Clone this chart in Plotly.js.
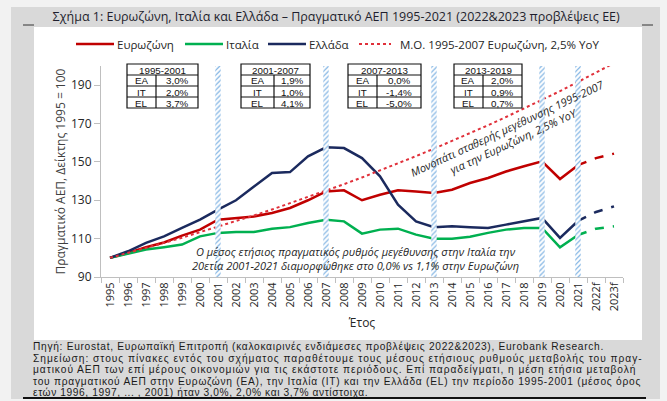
<!DOCTYPE html>
<html>
<head>
<meta charset="utf-8">
<script src="https://cdn.plot.ly/plotly-3.0.1.min.js"></script>
<style>
  html, body { margin: 0; padding: 0; background: #f2f2f2; }
  #chart { width: 667px; height: 401px; }
</style>
</head>
<body>
<div id="chart"></div>
<script>
// Years on the x axis (last two are forecasts)
const years = ['1995','1996','1997','1998','1999','2000','2001','2002','2003','2004',
  '2005','2006','2007','2008','2009','2010','2011','2012','2013','2014','2015','2016',
  '2017','2018','2019','2020','2021','2022f','2023f'];

// Real GDP index, 1995 = 100
const eurozone = [100, 102.5, 105.5, 108.0, 111.6, 114.7, 119.9, 120.8, 121.6, 123.4,
  126.0, 130.0, 134.6, 135.2, 130.0, 132.9, 135.2, 134.6, 133.8, 135.5, 139.0, 141.6,
  145.0, 147.7, 150.3, 141.1, 148.3, 152.0, 154.3];
const italy = [100, 102.2, 104.3, 105.5, 106.9, 111.2, 113.0, 113.5, 113.5, 115.2,
  116.0, 118.2, 119.9, 119.0, 112.6, 114.7, 115.2, 112.1, 110.0, 110.0, 111.0, 113.0,
  114.7, 115.6, 115.6, 105.5, 111.9, 115.2, 116.4];
const greece = [100, 103.4, 107.8, 111.2, 115.6, 119.9, 125.1, 130.0, 137.2, 144.2,
  144.7, 152.9, 157.6, 157.2, 152.0, 142.5, 127.7, 119.0, 116.0, 116.4, 116.0, 115.6,
  117.3, 119.0, 120.8, 110.4, 119.2, 123.9, 126.8];
// Constant-growth path of the 1995-2007 euro area average (2.5% YoY)
const trendPath = [100, 102.5, 105.1, 107.8, 110.5, 113.3, 116.2, 119.1, 122.1, 125.2,
  128.4, 131.7, 135.0, 138.4, 141.9, 145.5, 149.2, 153.0, 156.9, 160.9, 164.9, 169.1,
  173.4, 177.8, 182.3, 186.9, 191.7, 196.5, 201.5];

// Period breaks marked with hatched bands
const periodBreaks = ['2001', '2007', '2013', '2019', '2021'];

// Average annual growth per period
const periods = ['1995-2001', '2001-2007', '2007-2013', '2013-2019'];
const eaAvg = ['3,0%', '1,9%', '0,0%', '2,0%'];
const itAvg = ['2,0%', '1,0%', '-1,4%', '0,9%'];
const elAvg = ['3,7%', '4,1%', '-5,0%', '0,7%'];
const rowLabels = ['EA', 'IT', 'EL'];

// Legend entries
const seriesNames = ['Ευρωζώνη', 'Ιταλία', 'Ελλάδα', 'Μ.Ο. 1995-2007 Ευρωζώνη, 2,5% YoY'];

const RED = '#c00000', GREEN = '#00b050', NAVY = '#1b2a5e', DOT = '#e0303a';
const FONT = 'Open Sans, Noto Sans, sans-serif';
const SMALL = 'Liberation Sans, Arial, sans-serif';
const TXT = '#262626';

// plot area in pixels
const W = 667, H = 401;
const M = { l: 101, r: 44, t: 66, b: 124 };
const PW = W - M.l - M.r, PH = H - M.t - M.b;
const X = px => (px - M.l) / PW;
const Y = py => (H - M.b - py) / PH;

const nHist = years.indexOf('2021') + 1;
const hist = a => a.slice(0, nHist);
const fcst = a => a.slice(nHist - 1);

const traces = [
  { x: hist(years), y: hist(eurozone), name: seriesNames[0], type: 'scatter', mode: 'lines',
    line: { color: RED, width: 2.5 } },
  { x: hist(years), y: hist(italy), name: seriesNames[1], type: 'scatter', mode: 'lines',
    line: { color: GREEN, width: 2.5 } },
  { x: hist(years), y: hist(greece), name: seriesNames[2], type: 'scatter', mode: 'lines',
    line: { color: NAVY, width: 2.5 } },
  { x: years, y: trendPath, name: seriesNames[3], type: 'scatter',
    mode: 'lines', line: { color: DOT, width: 2, dash: 'dot' } },
  { x: fcst(years), y: fcst(eurozone), type: 'scatter', mode: 'lines',
    line: { color: RED, width: 2.5, dash: 'dash' } },
  { x: fcst(years), y: fcst(italy), type: 'scatter', mode: 'lines',
    line: { color: GREEN, width: 2.5, dash: 'dash' } },
  { x: fcst(years), y: fcst(greece), type: 'scatter', mode: 'lines',
    line: { color: NAVY, width: 2.5, dash: 'dash' } },
  { x: periodBreaks, y: periodBreaks.map(() => 1), type: 'bar', yaxis: 'y2',
    width: 0.3, hoverinfo: 'skip',
    marker: { color: 'rgba(255,255,255,0)', line: { width: 0 },
      pattern: { shape: '/', fgcolor: '#7fb3e3', bgcolor: 'white', size: 3.5, solidity: 0.35 } } }
];

const shapes = [
  { type: 'rect', xref: 'paper', yref: 'paper', layer: 'below',
    x0: X(11), x1: X(660), y0: Y(7), y1: Y(399), fillcolor: '#d9d9d9', line: { width: 0 } },
  { type: 'rect', xref: 'paper', yref: 'paper', layer: 'below',
    x0: X(34), x1: X(642), y0: Y(27), y1: Y(340), fillcolor: 'white', line: { width: 0 } },
  { type: 'line', xref: 'paper', yref: 'paper', x0: X(23), x1: X(34), y0: Y(25), y1: Y(25),
    line: { color: '#333', width: 1 } },
  { type: 'line', xref: 'paper', yref: 'paper', x0: X(642), x1: X(653), y0: Y(25), y1: Y(25),
    line: { color: '#333', width: 1 } },
  { type: 'line', xref: 'paper', yref: 'paper', x0: X(23), x1: X(646), y0: Y(398), y1: Y(398),
    line: { color: '#111', width: 2 } }
];

const annotations = [];

// Legend row: line sample followed by its label
const legendItems = [
  { x0: 76, x1: 114, color: RED, dash: 'solid', width: 2.5 },
  { x0: 185, x1: 223, color: GREEN, dash: 'solid', width: 2.5 },
  { x0: 268, x1: 306, color: NAVY, dash: 'solid', width: 2.5 },
  { x0: 359, x1: 391, color: DOT, dash: 'dot', width: 2 }
];
const legendY = 44;
legendItems.forEach((it, i) => {
  shapes.push({ type: 'line', xref: 'paper', yref: 'paper', x0: X(it.x0), x1: X(it.x1),
    y0: Y(legendY), y1: Y(legendY), line: { color: it.color, width: it.width, dash: it.dash } });
  annotations.push({ xref: 'paper', yref: 'paper', x: X(it.x1 + (i === 3 ? 7 : 1)), y: Y(legendY),
    xanchor: 'left', yanchor: 'middle', text: seriesNames[i], showarrow: false,
    font: { family: FONT, size: 11.5, color: TXT } });
});

// Period tables
const tableBoxes = [
  { l: 127, r: 198, d: 156 },
  { l: 241, r: 310, d: 274 },
  { l: 348, r: 421, d: 377 },
  { l: 454, r: 522, d: 483 }
];
const rowEdges = [64, 75, 86, 97, 108];
tableBoxes.forEach((b, i) => {
  shapes.push({ type: 'rect', xref: 'paper', yref: 'paper', x0: X(b.l), x1: X(b.r),
    y0: Y(rowEdges[0]), y1: Y(rowEdges[4]), fillcolor: 'white', line: { color: '#111', width: 1.2 } });
  for (let k = 1; k < 4; k++) {
    shapes.push({ type: 'line', xref: 'paper', yref: 'paper', x0: X(b.l), x1: X(b.r),
      y0: Y(rowEdges[k]), y1: Y(rowEdges[k]), line: { color: '#111', width: 1.2 } });
  }
  shapes.push({ type: 'line', xref: 'paper', yref: 'paper', x0: X(b.d), x1: X(b.d),
    y0: Y(rowEdges[1]), y1: Y(rowEdges[4]), line: { color: '#111', width: 1.2 } });
  const cell = (txt, cx, r) => annotations.push({ xref: 'paper', yref: 'paper',
    x: X(cx), y: Y((rowEdges[r] + rowEdges[r + 1]) / 2 + 0.5), text: txt, showarrow: false,
    xanchor: 'center', yanchor: 'middle', borderpad: 0,
    font: { family: SMALL, size: 9.8, color: '#111' } });
  cell(periods[i], (b.l + b.r) / 2, 0);
  const vals = [eaAvg[i], itAvg[i], elAvg[i]];
  rowLabels.forEach((lab, r) => {
    cell(lab, (b.l + b.d) / 2, r + 1);
    cell(vals[r], (b.d + b.r) / 2, r + 1);
  });
});

// Value labels
const end = years.indexOf('2021');
const valueLabel = (txt, y, shift) => annotations.push({ x: '2021', y: y, text: txt,
  showarrow: false, yshift: shift, xshift: 2, font: { family: FONT, size: 12, color: TXT } });
valueLabel(trendPath[end].toFixed(1), trendPath[end], 14);
valueLabel(eurozone[end].toFixed(1), eurozone[end], 16);
valueLabel(greece[end].toFixed(1), greece[end], 16);
valueLabel(italy[end].toFixed(1), italy[end], -16);
annotations.push({ x: '1995', y: eurozone[0], text: String(eurozone[0]), showarrow: false,
  xshift: 9, yshift: 20, font: { family: FONT, size: 12, color: TXT } });

// Notes inside the plot
annotations.push({ xref: 'paper', yref: 'paper', x: X(510), y: Y(134),
  xanchor: 'center', yanchor: 'middle',
  text: 'Μονοπάτι σταθερής μεγέθυνσης 1995-2007<br>για την Ευρωζώνη, 2,5% YoY',
  showarrow: false, textangle: -25, font: { family: FONT, size: 11, color: TXT, style: 'italic' } });
annotations.push({ xref: 'paper', yref: 'paper', x: X(355), y: Y(258),
  xanchor: 'center', yanchor: 'middle',
  text: 'Ο μέσος ετήσιος πραγματικός ρυθμός μεγέθυνσης στην Ιταλία την<br>20ετία 2001-2021 διαμορφώθηκε στο 0,0% vs 1,1% στην Ευρωζώνη',
  showarrow: false, align: 'center',
  font: { family: FONT, size: 11, color: TXT, style: 'italic' } });

// Footnote (lines 2-4 are spread to the full panel width)
const notes = [
  'Πηγή: Eurostat, Ευρωπαϊκή Επιτροπή (καλοκαιρινές ενδιάμεσες προβλέψεις 2022&2023), Eurobank Research.',
  'Σημείωση: στους πίνακες εντός του σχήματος παραθέτουμε τους μέσους ετήσιους ρυθμούς μεταβολής του πραγ-',
  'ματικού ΑΕΠ των επί μέρους οικονομιών για τις εκάστοτε περιόδους. Επί παραδείγματι, η μέση ετήσια μεταβολή',
  'του πραγματικού ΑΕΠ στην Ευρωζώνη (ΕΑ), την Ιταλία (ΙΤ) και την Ελλάδα (EL) την περίοδο 1995-2001 (μέσος όρος',
  'ετών 1996, 1997, ... , 2001) ήταν 3,0%, 2,0% και 3,7% αντίστοιχα.'
];
const noteY = [346.5, 358, 369.5, 381, 392.5];
const noteTracking = [0.7, 0.98, 0.95, 0.76, 0.6];
notes.forEach((t, i) => annotations.push({ xref: 'paper', yref: 'paper', x: X(32), y: Y(noteY[i]),
  xanchor: 'left', yanchor: 'middle', borderpad: 0, showarrow: false,
  text: '<span style="letter-spacing:' + noteTracking[i] + 'px">' + t + '</span>',
  font: { family: SMALL, size: 10.2, color: '#1a1a1a' } }));

const layout = {
  width: W, height: H,
  margin: M,
  paper_bgcolor: '#f2f2f2',
  plot_bgcolor: 'rgba(0,0,0,0)',
  font: { family: FONT, color: TXT },
  title: { text: 'Σχήμα 1: Ευρωζώνη, Ιταλία και Ελλάδα – Πραγματικό ΑΕΠ 1995-2021 (2022&2023 προβλέψεις ΕΕ)',
    x: 0.504, xanchor: 'center', y: 1 - 17 / H, yanchor: 'middle', yref: 'container',
    font: { family: FONT, size: 12.5, color: '#1f1f2e' } },
  showlegend: false,
  xaxis: { type: 'category', range: [-0.5, years.length - 0.5], tickangle: -90,
    tickson: 'boundaries', ticks: 'outside', ticklen: 5, tickcolor: '#bfbfbf',
    showline: true, linecolor: '#bfbfbf', showgrid: false, zeroline: false,
    tickfont: { family: FONT, size: 11, color: TXT },
    title: { text: 'Έτος', font: { family: FONT, size: 12, color: TXT }, standoff: 8 } },
  yaxis: { range: [90, 200], tick0: 90, dtick: 20, ticks: 'outside', ticklen: 6,
    tickcolor: '#bfbfbf', showline: true, linecolor: '#bfbfbf', showgrid: false, zeroline: false,
    tickfont: { family: FONT, size: 12, color: TXT },
    title: { text: 'Πραγματικό ΑΕΠ, Δείκτης 1995 = 100', font: { family: FONT, size: 12, color: '#404040' }, standoff: 2 } },
  yaxis2: { overlaying: 'y', range: [0, 1], visible: false, fixedrange: true },
  shapes: shapes,
  annotations: annotations
};

Plotly.newPlot('chart', traces, layout, { staticPlot: true, displayModeBar: false });
</script>
</body>
</html>
